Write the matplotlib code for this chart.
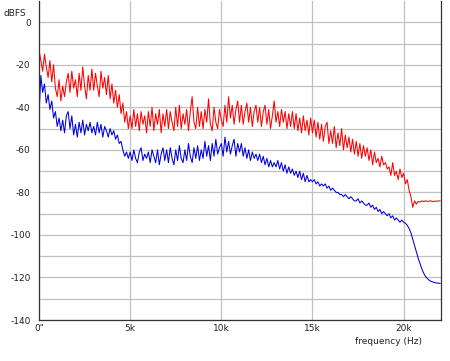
#! /usr/bin/env python3

import numpy as np
import matplotlib
matplotlib.use("Agg")
import matplotlib.pyplot as plt

plt.rcParams['axes.unicode_minus'] = False

# frequency bins, 100 Hz apart (Hz)
freq = np.arange(0, 22001, 100)

# left channel (red), dBFS, one row per kHz
red_db = [
	-13, -18, -23, -15, -21, -26, -18, -28, -20, -31,
	-35, -27, -37, -30, -35, -28, -24, -33, -23, -31,
	-27, -35, -24, -32, -21, -30, -36, -25, -32, -22,
	-32, -24, -30, -35, -23, -31, -26, -34, -25, -36,
	-29, -38, -32, -40, -34, -43, -38, -47, -42, -50,
	-44, -50, -41, -49, -43, -51, -42, -48, -44, -52,
	-42, -49, -40, -51, -43, -48, -41, -52, -43, -49,
	-41, -50, -42, -47, -51, -40, -49, -39, -50, -43,
	-48, -41, -51, -42, -35, -47, -50, -40, -49, -42,
	-50, -41, -47, -36, -48, -51, -40, -47, -50, -41,
	-46, -49, -39, -47, -35, -45, -39, -48, -41, -37,
	-47, -39, -48, -42, -38, -47, -40, -49, -42, -39,
	-47, -40, -49, -42, -39, -48, -41, -50, -44, -37,
	-47, -42, -49, -41, -47, -42, -50, -43, -49, -42,
	-50, -43, -51, -45, -52, -44, -51, -46, -53, -45,
	-52, -46, -54, -47, -55, -48, -56, -49, -47, -57,
	-51, -57, -49, -59, -52, -58, -50, -60, -53, -59,
	-54, -61, -55, -62, -56, -63, -57, -64, -58, -63,
	-59, -65, -60, -67, -61, -66, -64, -68, -63, -67,
	-66, -69, -68, -72, -66, -72, -70, -74, -69, -73,
	-71, -76, -74, -79, -82, -87, -84, -85.5, -84.2, -84.5,
	-84, -84.3, -84, -84.2, -84.1, -84, -84.3, -84.1, -84.2, -84,
	-84,
]

# right channel (blue), dBFS
blue_db = [
	-44, -25, -33, -29, -38, -34, -41, -37, -45, -42,
	-49, -45, -51, -46, -52, -44, -42, -50, -44, -53,
	-48, -54, -47, -52, -46, -53, -48, -51, -47, -52,
	-49, -53, -47, -52, -48, -54, -49, -51, -54, -50,
	-53, -51, -55, -53, -57, -56, -60, -63, -61, -64,
	-61, -65, -60, -64, -66, -61, -59, -65, -62, -64,
	-61, -66, -60, -63, -66, -60, -67, -62, -59, -65,
	-60, -66, -59, -64, -67, -60, -65, -58, -64, -66,
	-60, -65, -57, -63, -66, -59, -64, -58, -65, -60,
	-64, -56, -63, -58, -65, -57, -63, -55, -62, -59,
	-57, -63, -54, -61, -56, -62, -58, -55, -63, -57,
	-61, -57, -63, -59, -64, -60, -65, -61, -64, -62,
	-65, -62, -66, -63, -67, -64, -68, -65, -68, -66,
	-68, -65, -69, -66, -70, -67, -71, -68, -71, -69,
	-72, -70, -73, -70, -74, -71, -75, -72, -75, -74,
	-75, -74, -76, -75, -77, -76, -77, -76, -78, -77,
	-79, -78, -79, -80, -80, -81, -81, -82, -81, -82,
	-83, -82, -83, -84, -84, -83, -85, -84, -85, -86,
	-86, -85, -87, -86, -88, -87, -89, -88, -90, -89,
	-90, -91, -90, -92, -91, -93, -92, -93, -94, -93,
	-94, -94.5, -95.5, -97, -99, -102, -105, -108, -111, -113.5,
	-116, -118, -119.5, -120.5, -121.3, -121.8, -122.1, -122.4, -122.6, -122.7,
	-122.8,
]

x_ticks = [0, 5000, 10000, 15000, 20000]
x_labels = ['0"', '5k', '10k', '15k', '20k']
y_ticks = [0, -20, -40, -60, -80, -100, -120, -140]

fig = plt.figure(figsize=(4.5, 3.61), dpi=100)
ax = fig.add_axes([39/450, 1 - 320/361, 402/450, 319/361])

ax.plot(freq, red_db, color='#ff0000', lw=0.75)
ax.plot(freq, blue_db, color='#0000dd', lw=0.75)

ax.set_xlim(0, 22050)
ax.set_ylim(-140, 10)
ax.set_xticks(x_ticks)
ax.set_xticklabels(x_labels)
ax.set_yticks(y_ticks)
ax.set_yticks(np.arange(-130, 10, 20), minor=True)
ax.grid(True, which='both', color='#c0c0c0', lw=0.9)
ax.set_axisbelow(True)
ax.tick_params(which='both', length=0, labelsize=6.5, colors='#222222')
ax.tick_params(axis='y', pad=6)
ax.tick_params(axis='x', pad=3)

ax.spines['top'].set_visible(False)
for s in ['left', 'bottom', 'right']:
	ax.spines[s].set_color('#333333')
	ax.spines[s].set_linewidth(0.9)

fig.text(3/450, 1 - 13/361, 'dBFS', fontsize=6.5, color='#222222', va='center', ha='left')
fig.text(422/450, 1 - 342/361, 'frequency (Hz)', fontsize=6.5, color='#222222', va='center', ha='right')

plt.savefig('out.png', dpi=100)
plt.close()
